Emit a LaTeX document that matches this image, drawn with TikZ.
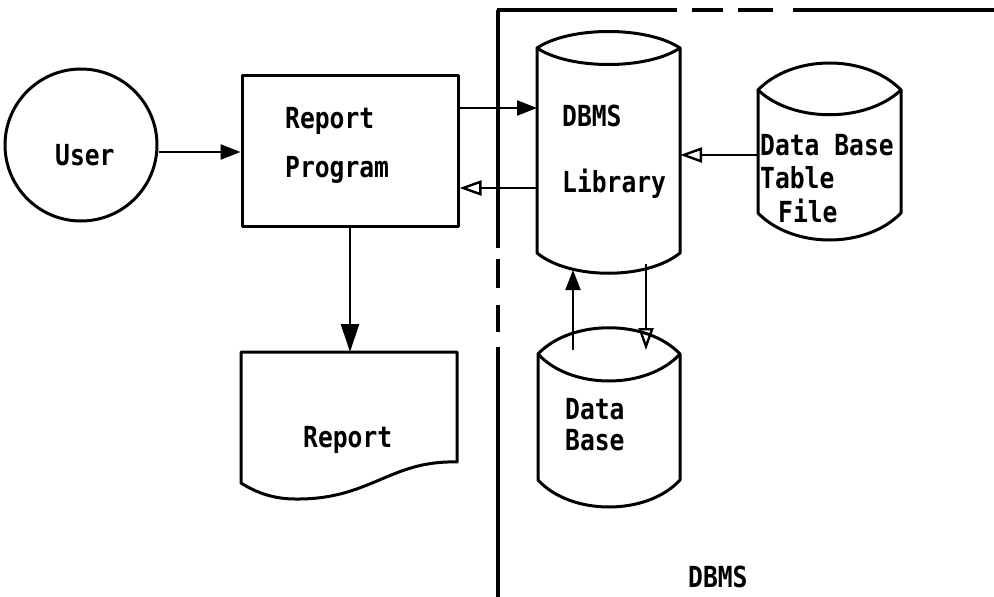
\documentclass[tikz,border=0pt]{standalone}
\usepackage{fontspec}
\newfontfamily\labelfont[FakeStretch=0.85]{DejaVu Sans Mono Bold}
\usetikzlibrary{arrows.meta}

\tikzset{
  outline/.style={line width=3pt, line join=round, line cap=round},
  wire/.style={line width=2.6pt},
  thinwire/.style={line width=2.2pt},
  txt/.style={font=\labelfont\fontsize{29}{33}\selectfont, inner sep=0pt, anchor=base west},
  frame/.style={line width=3.2pt},
  filledtip/.style={-{Triangle[length=20pt,width=15pt]}},
  bigtip/.style={-{Triangle[length=28pt,width=18pt]}},
  opentip/.style={-{Triangle[open,length=22pt,width=15pt,line width=2.4pt]}},
  box/.style={draw=none, inner sep=0pt, outer sep=0pt}
}

\begin{document}
\begin{tikzpicture}[x=1pt,y=-1pt]
\useasboundingbox[fill=white] (0,0) rectangle (994,597);

% ---- user terminator ----
\node[circle, draw, outline, minimum size=152pt, inner sep=0pt] (user) at (81,145) {};
\node[txt] (usertxt) at (55,165) {User};

% ---- report program ----
\node[rectangle, draw, outline, minimum width=216pt, minimum height=151pt, inner sep=0pt] (prog) at (350,150.5) {};
\node[txt] (progtxt1) at (285,128) {Report};
\node[txt] (progtxt2) at (285,177) {Program};

% ---- printed report (document symbol) ----
\node[box, minimum width=216pt, minimum height=147pt] (doc) at (349,425.5) {};
\draw[outline] (241,483) -- (241,352) -- (457,352) -- (457,462)
  .. controls (390,460) and (370,500) .. (295,499)
  .. controls (270,499) and (252,490) .. (241,483) -- cycle;
\node[txt] (doctxt) at (303,447) {Report};

% ---- DBMS library cylinder ----
\node[box, minimum width=143pt, minimum height=241pt] (lib) at (608.5,152.5) {};
\draw[outline] (537,48) .. controls (570,26) and (647,26) .. (680,48)
  .. controls (647,70) and (570,70) .. (537,48) -- cycle;
\draw[outline] (537,48) -- (537,253) .. controls (570,280) and (647,280) .. (680,253) -- (680,48);
\node[txt] (libtxt1) at (562,126) {DBMS};
\node[txt] (libtxt2) at (562,192) {Library};

% ---- data base table file cylinder ----
\node[box, minimum width=143pt, minimum height=177pt] (tab) at (829.5,151.5) {};
\draw[outline] (758,90) .. controls (793,54) and (866,54) .. (901,90)
  .. controls (866,123) and (793,123) .. (758,90) -- cycle;
\draw[outline] (758,90) -- (758,213) .. controls (793,249) and (866,249) .. (901,213) -- (901,90);
\node[txt] (tabtxt1) at (760,155) {Data Base};
\node[txt] (tabtxt2) at (760,188) {Table};
\node[txt] (tabtxt3) at (778,222) {File};

% ---- data base cylinder ----
\node[box, minimum width=142pt, minimum height=179pt] (db) at (609,417.5) {};
\draw[outline] (538,354) .. controls (571,319) and (647,319) .. (680,354)
  .. controls (647,390) and (571,390) .. (538,354) -- cycle;
\draw[outline] (538,354) -- (538,480) .. controls (571,516) and (647,516) .. (680,480) -- (680,354);
\node[txt] (dbtxt1) at (565,419) {Data};
\node[txt] (dbtxt2) at (565,450) {Base};

% ---- points where the vertical links meet the cylinder outlines ----
\coordinate (libbotL) at (573,270);
\coordinate (libbotR) at (646,264);
\coordinate (dbtopL) at (573,350);
\coordinate (dbtopR) at (646,350);

% ---- connectors ----
\draw[wire, filledtip] (user.east |- 0,152) -- (prog.west |- 0,152);
\draw[wire, filledtip] (prog.east |- 0,108) -- (lib.west |- 0,108);
\draw[wire, opentip] (lib.west |- 0,188) -- (prog.east |- 0,188);
\draw[wire, opentip] (tab.west |- 0,155) -- (lib.east |- 0,155);
\draw[wire, bigtip] (prog.south) -- (doc.north -| prog.south);
\draw[thinwire, filledtip] (dbtopL) -- (libbotL);
\draw[thinwire, opentip] (libbotR) -- (dbtopR);

% ---- DBMS boundary (dashed) ----
\draw[frame] (497,10) -- (677,10);
\draw[frame] (692,10) -- (723,10);
\draw[frame] (738,10) -- (773,10);
\draw[frame] (793,10) -- (994,10);
\draw[frame] (498,10) -- (498,248);
\draw[frame] (498,259) -- (498,288);
\draw[frame] (498,305) -- (498,332);
\draw[frame] (498,347) -- (498,597);
\node[txt] (dbmslabel) at (688,587) {DBMS};
\end{tikzpicture}
\end{document}
